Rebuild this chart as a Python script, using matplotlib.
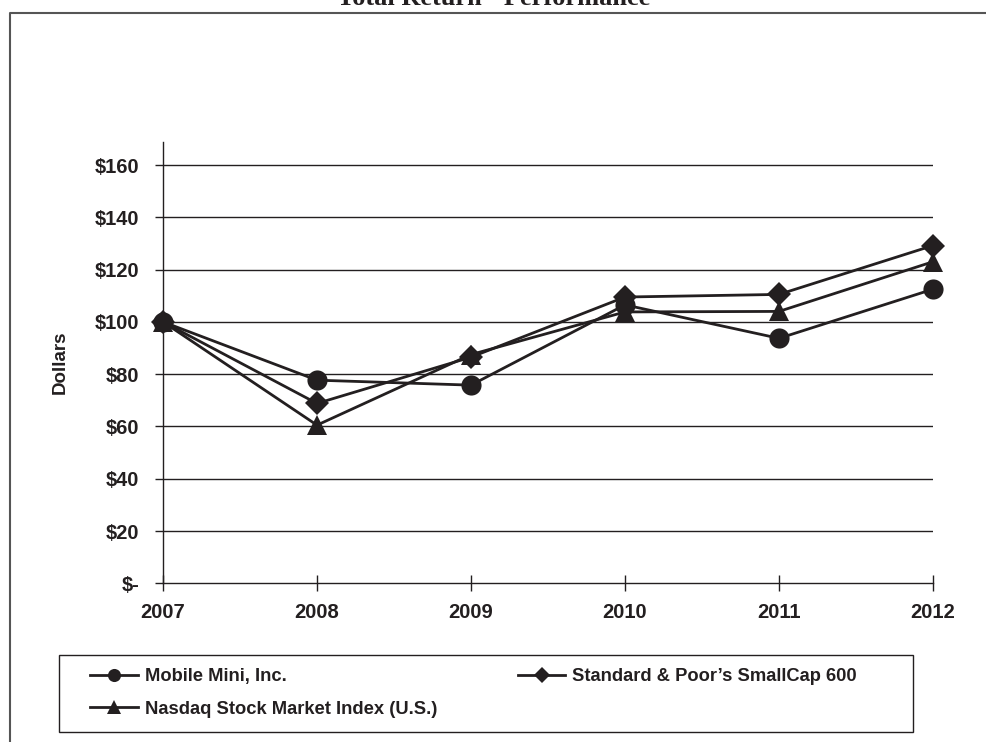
import matplotlib
matplotlib.use("Agg")
import matplotlib.pyplot as plt
from matplotlib.lines import Line2D
from matplotlib.patches import Rectangle

# values (index = $100 in 2007)
years = [2007, 2008, 2009, 2010, 2011, 2012]
mobile_mini = [100, 77.7, 75.8, 106.5, 93.7, 112.5]
sp_smallcap = [100, 68.8, 86.5, 109.5, 110.5, 129.2]
nasdaq = [100, 60.5, 87.5, 103.8, 104.0, 123.0]
series_names = ["Mobile Mini, Inc.", "Standard & Poor\u2019s SmallCap 600",
                "Nasdaq Stock Market Index (U.S.)"]
y_ticks = [0, 20, 40, 60, 80, 100, 120, 140, 160]
y_tick_labels = ["$-", "$20", "$40", "$60", "$80", "$100", "$120", "$140", "$160"]

ink = "#231f20"
plt.rcParams['font.family'] = ['Liberation Sans', 'DejaVu Sans']

W, H = 987, 742
fig = plt.figure(figsize=(W / 100, H / 100), dpi=100)
ax = fig.add_axes([163 / W, 1 - 583.3 / H, 770 / W, (583.3 - 142) / H])

markers = ["o", "D", "^"]
msizes = [14.5, 12, 14.5]
handles = []
for vals, mk, ms, name in zip([mobile_mini, sp_smallcap, nasdaq], markers, msizes, series_names):
    h, = ax.plot(years, vals, color=ink, lw=2.0, marker=mk, ms=ms,
                 markeredgewidth=0, label=name, clip_on=False, zorder=3)
    handles.append(h)

ax.set_xlim(2007, 2012)
ax.set_ylim(0, 168.8)
ax.set_yticks(y_ticks)
ax.set_yticklabels(y_tick_labels)
ax.set_xticks(years)
ax.set_xticklabels([str(y) for y in years])
for y in y_ticks[1:]:
    ax.axhline(y, color=ink, lw=1.0, zorder=1)

for s in ["top", "right"]:
    ax.spines[s].set_visible(False)
for s in ["left", "bottom"]:
    ax.spines[s].set_color(ink)
    ax.spines[s].set_linewidth(1.0)
ax.tick_params(axis="y", direction="out", length=6, width=1, color=ink, pad=11)
ax.tick_params(axis="x", direction="inout", length=12, width=1, color=ink, pad=8)
for lab in ax.get_xticklabels() + ax.get_yticklabels():
    lab.set_fontweight("bold")
    lab.set_fontsize(14.5)
    lab.set_color(ink)
ax.set_ylabel("Dollars", fontsize=13.5, fontweight="bold", color=ink, labelpad=19)

# outer frame (left and top edges only visible)
fig.add_artist(Line2D([10 / W, 10 / W, 1.0], [0.0, 1 - 13 / H, 1 - 13 / H],
                      transform=fig.transFigure, color="#555555", lw=1.5))

# title, partly cut at the top of the image
fig.text(0.5, 1 - 5 / H, "Total Return - Performance", ha="center", va="baseline",
         fontsize=19, fontweight="bold", family="Liberation Serif", color=ink)

# legend box
fig.add_artist(Rectangle((59 / W, 1 - 732 / H), 854 / W, 77 / H,
                         transform=fig.transFigure, fill=False, edgecolor=ink, lw=1.0))
order = [handles[0], handles[2], handles[1]]
leg = fig.legend(order, [h.get_label() for h in order], ncol=2, frameon=False,
                 loc="upper left", bbox_to_anchor=(90 / W, 1 - 668 / H),
                 borderaxespad=0, borderpad=0, handlelength=2.6, handletextpad=0.38,
                 columnspacing=4.4, labelspacing=0.86, markerscale=0.65,
                 prop={"weight": "bold", "size": 13.2})
for t in leg.get_texts():
    t.set_color(ink)

fig.savefig("out.png", dpi=100)
